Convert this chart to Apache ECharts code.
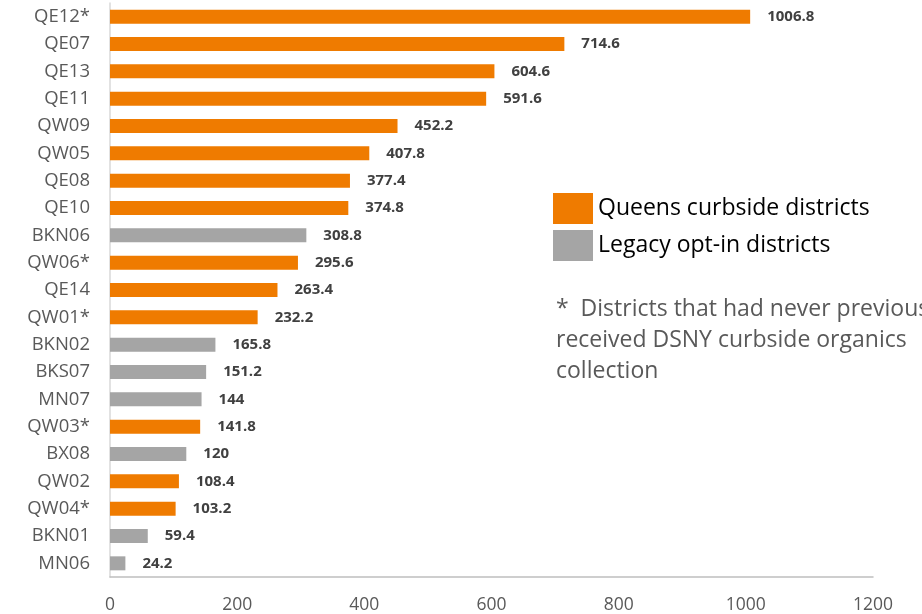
<!DOCTYPE html>
<html><head><meta charset="utf-8">
<script src="https://cdn.jsdelivr.net/npm/echarts@6/dist/echarts.min.js"></script>
<style>html,body{margin:0;padding:0;background:#fff}#c{width:922px;height:614px}</style>
</head><body><div id="c"></div>
<script>
const categories = ["QE12*","QE07","QE13","QE11","QW09","QW05","QE08","QE10","BKN06","QW06*","QE14","QW01*","BKN02","BKS07","MN07","QW03*","BX08","QW02","QW04*","BKN01","MN06"];
const values = [1006.8,714.6,604.6,591.6,452.2,407.8,377.4,374.8,308.8,295.6,263.4,232.2,165.8,151.2,144,141.8,120,108.4,103.2,59.4,24.2];
const groups = ["Q","Q","Q","Q","Q","Q","Q","Q","L","Q","Q","Q","L","L","L","Q","L","Q","Q","L","L"];
const seriesNames = ["Queens curbside districts","Legacy opt-in districts"];
const xTicks = [0,200,400,600,800,1000,1200];
const footnote = ["*  Districts that had never previously","received DSNY curbside organics","collection"];

const cats = categories.slice().reverse();
const vals = values.slice().reverse();
const grps = groups.slice().reverse();
const qData = vals.map((v,i)=> grps[i]==="Q" ? v : "-");
const lData = vals.map((v,i)=> grps[i]==="L" ? v : "-");

const chart = echarts.init(document.getElementById('c'));
const lbl = {show:true, position:'right', distance:17, color:'#404040', fontWeight:'bold', fontSize:15, fontFamily:'Open Sans'};
chart.setOption({
  animation:false,
  textStyle:{fontFamily:'Open Sans'},
  grid:{left:110, right:49, top:3, bottom:37, containLabel:false},
  xAxis:{type:'value', min:0, max:1200, interval:200,
    axisLine:{show:true, lineStyle:{color:'#bfbfbf', width:1.5}}, axisTick:{show:false}, splitLine:{show:false},
    axisLabel:{color:'#595959', fontSize:17.5, margin:19, formatter:v=>xTicks.includes(v)?String(v):''}},
  yAxis:{type:'category', data:cats,
    axisLine:{show:true, lineStyle:{color:'#d9d9d9', width:1.5}}, axisTick:{show:false},
    axisLabel:{color:'#595959', fontSize:18.5, margin:20}},
  legend:{orient:'vertical', left:553, top:193, padding:0, itemWidth:40, itemHeight:31, itemGap:6,
    icon:'rect', textStyle:{color:'#000', fontSize:23, padding:[0,0,0,0]}, data:seriesNames},
  series:[
    {name:seriesNames[0], type:'bar', stack:'s', data:qData, barWidth:14, itemStyle:{color:'#ef7b00'}, label:lbl},
    {name:seriesNames[1], type:'bar', stack:'s', data:lData, barWidth:14, itemStyle:{color:'#a5a5a5'}, label:lbl}
  ],
  graphic:[{type:'text', left:556, top:294, style:{text:footnote.join('\n'), fill:'#595959', fontSize:23, lineHeight:31, fontFamily:'Open Sans'}}]
});
</script></body></html>
